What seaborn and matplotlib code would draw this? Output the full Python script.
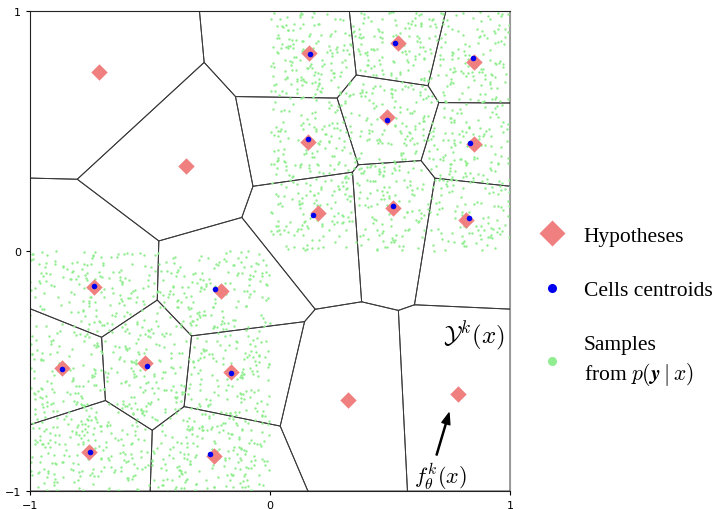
import numpy as np
import pandas as pd
import matplotlib
matplotlib.use("Agg")
import matplotlib.pyplot as plt
import seaborn as sns
from matplotlib.lines import Line2D

# Hypotheses (predicted points) and the centroids of their Voronoi cells
hyp_x = [-0.711, -0.351, 0.1625, 0.532, 0.851, 0.486, 0.157, 0.849, 0.199, 0.511,
         0.815, -0.733, -0.204, -0.868, -0.521, -0.161, -0.756, -0.232, 0.324, 0.782]
hyp_y = [0.745, 0.354, 0.825, 0.865, 0.789, 0.557, 0.453, 0.446, 0.157, 0.179,
         0.130, -0.151, -0.165, -0.489, -0.468, -0.506, -0.838, -0.856, -0.619, -0.596]

cen_x = [0.167, 0.522, 0.845, 0.486, 0.158, 0.832, 0.181, 0.511, 0.829,
         -0.733, -0.228, -0.865, -0.514, -0.1625, -0.750, -0.249]
cen_y = [0.819, 0.865, 0.804, 0.545, 0.465, 0.449, 0.150, 0.189, 0.1375,
         -0.147, -0.158, -0.490, -0.479, -0.508, -0.836, -0.845]

# Support of p(y | x): two unit squares, uniformly sampled
support_x0 = [0.0, -1.0]
support_y0 = [0.0, -1.0]
n_per_square = 1100

rng = np.random.default_rng(7)
sx, sy = [], []
for x0, y0 in zip(support_x0, support_y0):
    sx.append(x0 + rng.uniform(0, 1, n_per_square))
    sy.append(y0 + rng.uniform(0, 1, n_per_square))
samples = pd.DataFrame({"x": np.concatenate(sx), "y": np.concatenate(sy)})
hyps = pd.DataFrame({"x": hyp_x, "y": hyp_y})
cents = pd.DataFrame({"x": cen_x, "y": cen_y})


def clip_halfplane(poly, a, b, c):
    """Keep the part of polygon where a*x + b*y <= c."""
    out = []
    n = len(poly)
    for i in range(n):
        p, q = poly[i], poly[(i + 1) % n]
        fp = a * p[0] + b * p[1] - c
        fq = a * q[0] + b * q[1] - c
        if fp <= 0:
            out.append(p)
        if fp * fq < 0:
            t = fp / (fp - fq)
            out.append((p[0] + t * (q[0] - p[0]), p[1] + t * (q[1] - p[1])))
    return out


def voronoi_cells(xs, ys, box=(-1, 1, -1, 1)):
    x0, x1, y0, y1 = box
    pts = np.column_stack([xs, ys])
    cells = []
    for i, pi in enumerate(pts):
        poly = [(x0, y0), (x1, y0), (x1, y1), (x0, y1)]
        for j, pj in enumerate(pts):
            if i == j:
                continue
            a, b = 2 * (pj - pi)
            c = pj @ pj - pi @ pi
            poly = clip_halfplane(poly, a, b, c)
            if not poly:
                break
        cells.append(poly)
    return cells


plt.rcParams["mathtext.fontset"] = "cm"

fig = plt.figure(figsize=(7.18, 5.10), dpi=100)
ax = fig.add_axes([30 / 718, 18 / 510, 480 / 718, 480 / 510])

for cell in voronoi_cells(hyp_x, hyp_y):
    cx = [p[0] for p in cell] + [cell[0][0]]
    cy = [p[1] for p in cell] + [cell[0][1]]
    ax.plot(cx, cy, color="#3a3a3a", lw=0.7, zorder=1)

sns.scatterplot(data=samples, x="x", y="y", ax=ax, color="#90ee90", s=3,
                linewidth=0, zorder=2, legend=False)
sns.scatterplot(data=hyps, x="x", y="y", ax=ax, color="#f08080", marker="D",
                s=70, linewidth=0, zorder=3, legend=False)
sns.scatterplot(data=cents, x="x", y="y", ax=ax, color="#0000ee", s=16,
                linewidth=0, zorder=4, legend=False)

ax.set_xlim(-1, 1)
ax.set_ylim(-1, 1)
ax.set_xticks([-1, 0, 1])
ax.set_yticks([-1, 0, 1])
ax.tick_params(labelsize=8, length=3, width=0.8)
ax.set_xlabel("")
ax.set_ylabel("")
ax.spines["right"].set_color("#999999")
for s in ("left", "bottom", "top"):
    ax.spines[s].set_color("#222222")

ax.text(0.98, -0.35, r"$\mathcal{Y}^k(x)$", fontsize=18, ha="right", va="center")
ax.text(0.71, -0.935, r"$f_\theta^k(x)$", fontsize=16, ha="center", va="center")
ax.annotate("", xy=(0.746, -0.675), xytext=(0.694, -0.85),
            arrowprops=dict(facecolor="black", edgecolor="black", width=0.8,
                            headwidth=6, headlength=8, shrink=0))

handles = [
    Line2D([], [], ls="", marker="D", ms=13, color="#f08080", mec="none"),
    Line2D([], [], ls="", marker="o", ms=6.5, color="#0000ee", mec="none"),
    Line2D([], [], ls="", marker="o", ms=6.5, color="#90ee90", mec="none"),
]
labels = ["Hypotheses", "Cells centroids", "Samples\nfrom $p(\\boldsymbol{y}\\mid x)$"]
leg = fig.legend(handles, labels, loc="upper left",
                 bbox_to_anchor=(530 / 718, 1 - 216 / 510),
                 frameon=False, prop={"family": "Liberation Serif", "size": 15.5},
                 handlelength=1.0, handletextpad=1.0, labelspacing=1.6, borderpad=0)
leg.get_texts()[2].set_linespacing(1.35)

fig.savefig("out.png", dpi=100)
